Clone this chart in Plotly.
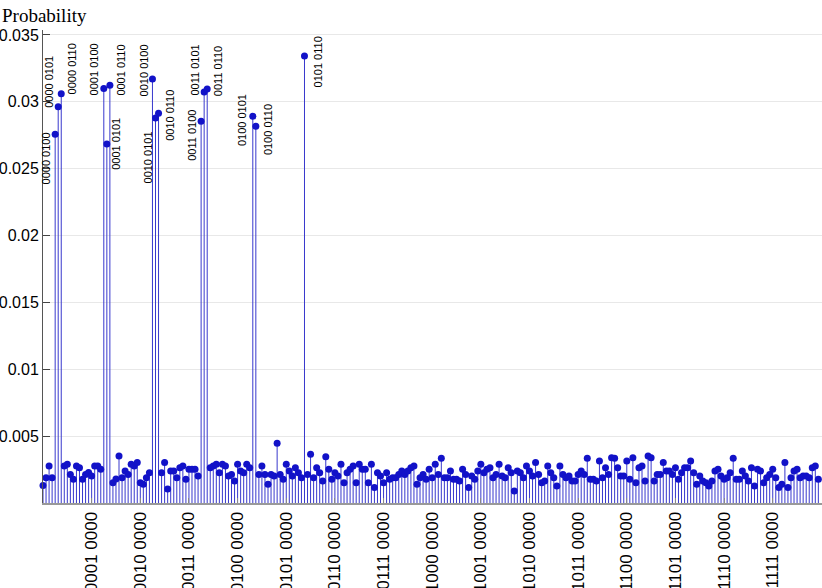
import plotly.graph_objects as go

# probability of each 8-bit basis state, index 0..255
probabilities = [
    0.00130, 0.00189, 0.00277, 0.00189, 0.02757, 0.02964, 0.03061, 0.00277, 0.00289, 0.00214, 0.00177, 0.00277, 0.00264, 0.00177, 0.00214, 0.00229,
    0.00202, 0.00277, 0.00277, 0.00252, 0.03099, 0.02685, 0.03124, 0.00152, 0.00180, 0.00352, 0.00189, 0.00239, 0.00214, 0.00289, 0.00277, 0.00302,
    0.00152, 0.00140, 0.00189, 0.00227, 0.03171, 0.02879, 0.02914, 0.00227, 0.00302, 0.00105, 0.00239, 0.00239, 0.00189, 0.00264, 0.00277, 0.00177,
    0.00252, 0.00252, 0.00252, 0.00202, 0.02855, 0.03074, 0.03096, 0.00264, 0.00277, 0.00289, 0.00227, 0.00289, 0.00277, 0.00202, 0.00214, 0.00165,
    0.00289, 0.00239, 0.00227, 0.00289, 0.00264, 0.02892, 0.02817, 0.00214, 0.00277, 0.00214, 0.00140, 0.00214, 0.00202, 0.00446, 0.00214, 0.00177,
    0.00289, 0.00239, 0.00202, 0.00264, 0.00227, 0.00189, 0.03343, 0.00214, 0.00364, 0.00189, 0.00264, 0.00227, 0.00165, 0.00346, 0.00252, 0.00177,
    0.00227, 0.00202, 0.00289, 0.00152, 0.00227, 0.00252, 0.00277, 0.00152, 0.00289, 0.00252, 0.00252, 0.00152, 0.00289, 0.00115, 0.00227, 0.00202,
    0.00152, 0.00227, 0.00177, 0.00189, 0.00189, 0.00214, 0.00239, 0.00214, 0.00239, 0.00264, 0.00277, 0.00140, 0.00189, 0.00214, 0.00177, 0.00252,
    0.00189, 0.00289, 0.00214, 0.00334, 0.00189, 0.00189, 0.00239, 0.00177, 0.00177, 0.00165, 0.00252, 0.00214, 0.00115, 0.00202, 0.00177, 0.00239,
    0.00289, 0.00227, 0.00252, 0.00264, 0.00189, 0.00214, 0.00289, 0.00202, 0.00189, 0.00264, 0.00227, 0.00090, 0.00239, 0.00227, 0.00189, 0.00277,
    0.00239, 0.00202, 0.00302, 0.00214, 0.00152, 0.00165, 0.00277, 0.00227, 0.00189, 0.00127, 0.00277, 0.00214, 0.00189, 0.00202, 0.00165, 0.00165,
    0.00214, 0.00239, 0.00214, 0.00334, 0.00177, 0.00177, 0.00165, 0.00314, 0.00189, 0.00264, 0.00214, 0.00339, 0.00334, 0.00264, 0.00202, 0.00202,
    0.00314, 0.00177, 0.00339, 0.00152, 0.00264, 0.00277, 0.00165, 0.00352, 0.00339, 0.00165, 0.00214, 0.00214, 0.00302, 0.00239, 0.00239, 0.00214,
    0.00264, 0.00177, 0.00227, 0.00264, 0.00264, 0.00314, 0.00227, 0.00140, 0.00202, 0.00165, 0.00152, 0.00127, 0.00165, 0.00239, 0.00252, 0.00202,
    0.00177, 0.00189, 0.00227, 0.00334, 0.00177, 0.00177, 0.00239, 0.00202, 0.00165, 0.00264, 0.00127, 0.00252, 0.00239, 0.00152, 0.00189, 0.00214,
    0.00252, 0.00189, 0.00115, 0.00140, 0.00302, 0.00115, 0.00189, 0.00239, 0.00252, 0.00189, 0.00202, 0.00202, 0.00189, 0.00264, 0.00277, 0.00177,
]
states = list(range(len(probabilities)))

x_tickvals = [16, 32, 48, 64, 80, 96, 112, 128, 144, 160, 176, 192, 208, 224, 240]
x_ticktext = ["0001 0000", "0010 0000", "0011 0000", "0100 0000", "0101 0000",
              "0110 0000", "0111 0000", "1000 0000", "1001 0000", "1010 0000",
              "1011 0000", "1100 0000", "1101 0000", "1110 0000", "1111 0000"]
y_tickvals = [0.005, 0.01, 0.015, 0.02, 0.025, 0.03, 0.035]
y_ticktext = ["0.005", "0.01", "0.015", "0.02", "0.025", "0.03", "0.035"]

# states that get a callout
labeled_states = [4, 5, 6, 20, 21, 22, 36, 37, 38, 52, 53, 54, 69, 70, 86]

# callout placement: (xanchor, yanchor, xshift, yshift)
placement = {
    4: ("right", "top", -1, 4),
    5: ("right", "bottom", -2, -3),
    6: ("left", "bottom", 3, -3),
    20: ("right", "bottom", -2, -9),
    21: ("left", "middle", 1, 0),
    22: ("left", "bottom", 3, -12),
    36: ("right", "bottom", -1, -19),
    37: ("right", "top", 0, -12),
    38: ("left", "middle", 4, -2),
    52: ("right", "top", -1, 13),
    53: ("right", "bottom", -1, -6),
    54: ("left", "bottom", 3, -9),
    69: ("right", "middle", -3, -4),
    70: ("left", "middle", 4, -3),
    86: ("left", "middle", 5, -6),
}

SANS = "Liberation Sans, Arial, sans-serif"

stem_x, stem_y = [], []
for s, p in zip(states, probabilities):
    stem_x += [s, s, None]
    stem_y += [0, p, None]

fig = go.Figure()
fig.add_trace(go.Scatter(
    x=stem_x, y=stem_y, mode="lines",
    line=dict(color="rgb(56,56,205)", width=1),
    hoverinfo="skip"
))
fig.add_trace(go.Scatter(
    x=states, y=probabilities, mode="markers",
    marker=dict(color="rgb(18,18,200)", size=7),
    cliponaxis=False
))

for s in labeled_states:
    xa, ya, dx, dy = placement[s]
    b = format(s, "08b")
    fig.add_annotation(
        x=s, y=probabilities[s], text=b[:4] + " " + b[4:],
        textangle=-90, showarrow=False,
        xanchor=xa, yanchor=ya, xshift=dx, yshift=dy,
        font=dict(family=SANS, size=11, color="black")
    )

fig.add_annotation(
    xref="paper", yref="paper", x=0, y=1, xshift=-43, yshift=15,
    xanchor="left", yanchor="middle", showarrow=False,
    text="Probability",
    font=dict(family="Liberation Serif, Times New Roman, serif", size=19, color="black")
)

fig.update_layout(
    width=822, height=588,
    margin=dict(l=43, r=0, t=30, b=85),
    plot_bgcolor="white", paper_bgcolor="white",
    showlegend=False,
)
fig.update_xaxes(
    range=[0, 256.2], automargin=False,
    tickvals=x_tickvals, ticktext=x_ticktext, tickangle=-90,
    tickfont=dict(family=SANS, size=17, color="black"),
    ticks="inside", ticklen=5, tickcolor="#888888",
    showline=True, linecolor="#999999", linewidth=2,
    showgrid=False, zeroline=False
)
fig.update_yaxes(
    range=[0, 0.03537], automargin=False,
    tickvals=y_tickvals, ticktext=y_ticktext,
    tickfont=dict(family=SANS, size=16, color="black"),
    ticks="inside", ticklen=7, tickcolor="#444444",
    showline=True, linecolor="#555555", linewidth=1,
    showgrid=True, gridcolor="#e8e8e8", gridwidth=1,
    zeroline=False
)

# drop the default page margin so the figure sits at the window origin
fig.write_html("out.html", config={"displayModeBar": False},
               post_script="document.body.style.margin='0';")
